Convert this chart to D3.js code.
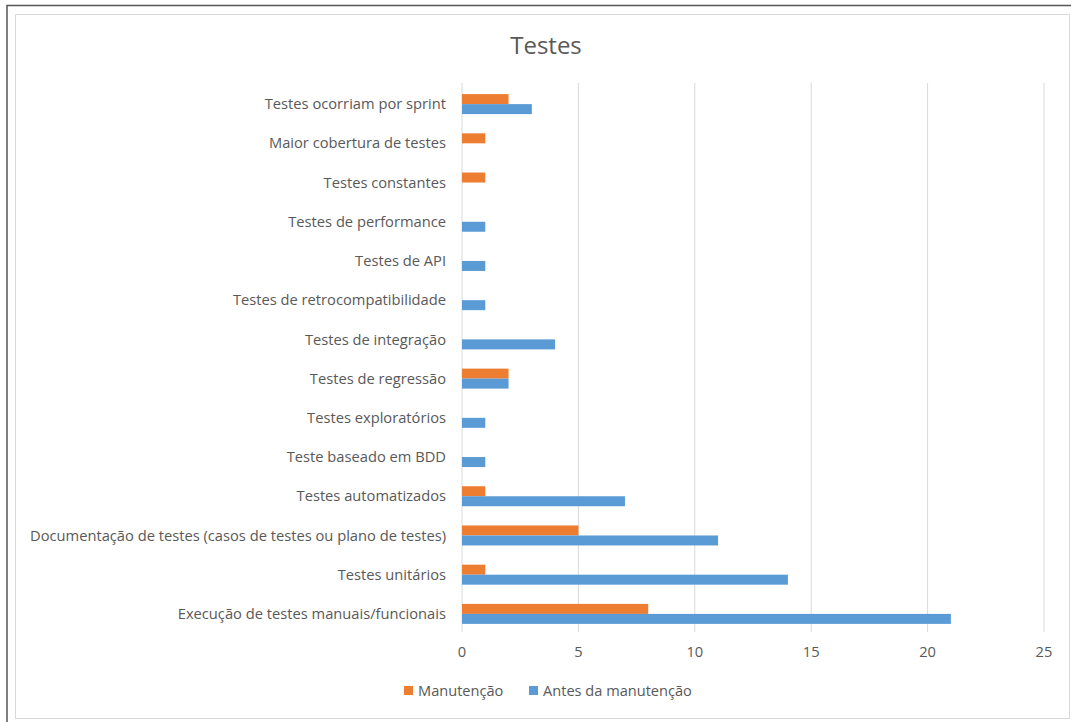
<!DOCTYPE html>
<html><head><meta charset="utf-8">
<script src="https://cdn.jsdelivr.net/npm/d3@7/dist/d3.min.js"></script>
<style>body{margin:0;background:#fff;font-family:"Open Sans",sans-serif;}</style>
</head><body>
<svg id="c" width="1071" height="722"></svg>
<script>
const categories = [
  "Testes ocorriam por sprint",
  "Maior cobertura de testes",
  "Testes constantes",
  "Testes de performance",
  "Testes de API",
  "Testes de retrocompatibilidade",
  "Testes de integração",
  "Testes de regressão",
  "Testes exploratórios",
  "Teste baseado em BDD",
  "Testes automatizados",
  "Documentação de testes (casos de testes ou plano de testes)",
  "Testes unitários",
  "Execução de testes manuais/funcionais"
];
const manutencao = [2,1,1,0,0,0,0,2,0,0,1,5,1,8];
const antes = [3,0,0,1,1,1,4,2,1,1,7,11,14,21];
const seriesNames = ["Manutenção","Antes da manutenção"];
const xTicks = [0,5,10,15,20,25];
const title = "Testes";

const colors = ["#ED7D31","#5B9BD5"];
const svg = d3.select("#c");
const txt = "#595959";

// frames
svg.append("path").attr("d","M7,722 V5.5 H1071").attr("fill","none").attr("stroke","#555").attr("stroke-width",1.5);
svg.append("rect").attr("x",15.5).attr("y",14.5).attr("width",1054).attr("height",704).attr("fill","#fff").attr("stroke","#d9d9d9").attr("stroke-width",1);

const x = d3.scaleLinear().domain([0,25]).range([462,1044]);
const y = d3.scaleBand().domain(categories).range([84.5,633.5]).paddingInner(0.49).paddingOuter(0.245);
const ys = d3.scaleBand().domain(seriesNames).range([0,y.bandwidth()]);

// grid
svg.append("g").selectAll("line").data(xTicks).join("line")
  .attr("x1",d=>x(d)).attr("x2",d=>x(d)).attr("y1",83).attr("y2",632)
  .attr("stroke","#d9d9d9").attr("stroke-width",1);

// bars
const data = [manutencao, antes];
data.forEach((vals,si)=>{
  svg.append("g").selectAll("rect").data(categories).join("rect")
    .attr("x",x(0)).attr("y",(d)=>y(d)+ys(seriesNames[si]))
    .attr("width",(d,i)=>x(vals[i])-x(0)).attr("height",ys.bandwidth())
    .attr("fill",colors[si]);
});

// category labels
svg.append("g").selectAll("text").data(categories).join("text")
  .attr("x",446).attr("y",d=>y(d)+y.bandwidth()/2).attr("dy","0.35em")
  .attr("text-anchor","end").attr("fill",txt).attr("font-size",14.7).text(d=>d);

// x tick labels
svg.append("g").selectAll("text").data(xTicks).join("text")
  .attr("x",d=>x(d)).attr("y",652).attr("dy","0.35em").attr("text-anchor","middle")
  .attr("fill",txt).attr("font-size",14.7).text(d=>d);

// title
svg.append("text").attr("x",546).attr("y",46).attr("dy","0.35em").attr("text-anchor","middle")
  .attr("fill",txt).attr("font-size",24).text(title);

// legend
const lg = svg.append("g");
const legX = [404, 529];
seriesNames.forEach((n,i)=>{
  lg.append("rect").attr("x",legX[i]).attr("y",686).attr("width",9).attr("height",9).attr("fill",colors[i]);
  lg.append("text").attr("x",legX[i]+14).attr("y",691).attr("dy","0.35em").attr("fill",txt).attr("font-size",14.6).text(n);
});
</script>
</body></html>
